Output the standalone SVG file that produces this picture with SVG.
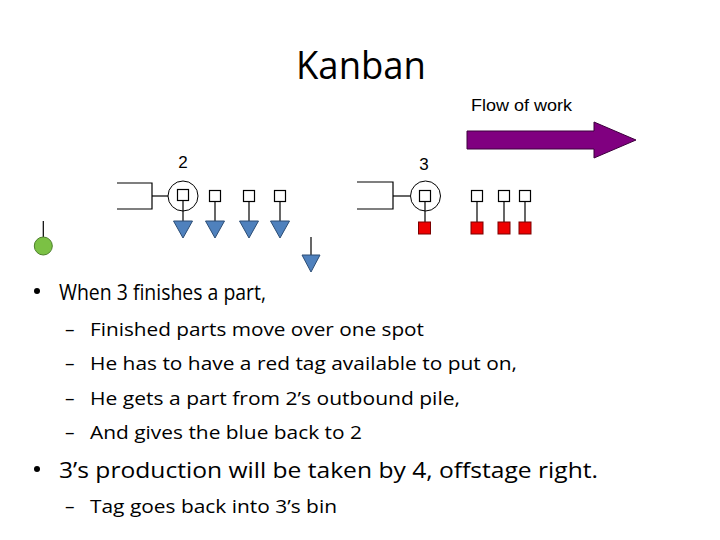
<svg xmlns="http://www.w3.org/2000/svg" width="720" height="540" viewBox="0 0 720 540">
<style>
.ln{stroke:#000;stroke-width:1.2;fill:none}
.sq{fill:#fff;stroke:#000;stroke-width:1.2}
.ring{fill:none;stroke:#000;stroke-width:1}
.tri{fill:#4F81BD;stroke:#2C4D75;stroke-width:1}
.red{fill:#EE0000;stroke:#7a0000;stroke-width:1}
.lab{font-family:"Liberation Sans",Arial,sans-serif;font-size:17px;fill:#000}
.title{font-family:"Open Sans","Liberation Sans",sans-serif;font-size:38px;fill:#000}
.b1{font-family:"Open Sans","Liberation Sans",sans-serif;font-size:22px;fill:#000}
.b2{font-family:"Open Sans","Liberation Sans",sans-serif;font-size:19px;fill:#000}
</style>
<rect width="720" height="540" fill="#fff"/>
<g id="title"><text class="title" x="296" y="79" textLength="130" lengthAdjust="spacingAndGlyphs">Kanban</text></g>
<g id="flow">
<text class="lab" x="471" y="111" textLength="101" lengthAdjust="spacingAndGlyphs">Flow of work</text>
<polygon points="467,131 594,131 594,122 636,140 594,158 594,149 467,149" fill="#800080" stroke="#3d003d" stroke-width="1"/>
</g>
<g id="connectors">
<polyline class="ln" points="117,183 152,183 152,209 117,209"/>
<line class="ln" x1="152" y1="196" x2="168" y2="196"/>
<line class="ln" x1="183" y1="201" x2="183" y2="221"/>
<line class="ln" x1="215" y1="202" x2="215" y2="221"/>
<line class="ln" x1="249" y1="202" x2="249" y2="221"/>
<line class="ln" x1="280" y1="202" x2="280" y2="221"/>
<line class="ln" x1="311" y1="237" x2="311" y2="255"/>
<line class="ln" x1="43.3" y1="221" x2="43.3" y2="237"/>
<polyline class="ln" points="357,182 393,182 393,209 357,209"/>
<line class="ln" x1="393" y1="196" x2="410" y2="196"/>
<line class="ln" x1="425" y1="202" x2="425" y2="222"/>
<line class="ln" x1="477" y1="202" x2="477" y2="222"/>
<line class="ln" x1="504" y1="202" x2="504" y2="222"/>
<line class="ln" x1="525" y1="202" x2="525" y2="222"/>
</g>
<g id="station2">
<text class="lab" x="183" y="168" text-anchor="middle">2</text>
<circle class="ring" cx="183" cy="196" r="15"/>
<rect class="sq" x="177.5" y="189.5" width="11" height="11"/>
</g>
<g id="station2-tags">
<rect class="sq" x="209.5" y="190.5" width="11" height="11"/>
<rect class="sq" x="243.5" y="190.5" width="11" height="11"/>
<rect class="sq" x="274.5" y="190.5" width="11" height="11"/>
<polygon class="tri" points="173.5,221 192.5,221 183,238"/>
<polygon class="tri" points="205.5,221 224.5,221 215,238"/>
<polygon class="tri" points="239.5,221 258.5,221 249,238"/>
<polygon class="tri" points="270.5,221 289.5,221 280,238"/>
</g>
<g id="returning-tag"><polygon class="tri" points="302,255 320,255 311,272"/></g>
<g id="green-part"><circle cx="43.3" cy="246" r="9" fill="#7BC144" stroke="#4C7F2A" stroke-width="1"/></g>
<g id="station3">
<text class="lab" x="424" y="170" text-anchor="middle">3</text>
<circle class="ring" cx="425.5" cy="196" r="15"/>
<rect class="sq" x="419.5" y="190.5" width="11" height="11"/>
<rect class="red" x="418.5" y="222" width="12" height="12"/>
</g>
<g id="station3-tags">
<rect class="sq" x="471.5" y="190.5" width="11" height="11"/>
<rect class="sq" x="498.5" y="190.5" width="11" height="11"/>
<rect class="sq" x="519.5" y="190.5" width="11" height="11"/>
<rect class="red" x="471" y="222" width="12" height="12"/>
<rect class="red" x="498" y="222" width="12" height="12"/>
<rect class="red" x="519" y="222" width="12" height="12"/>
</g>
<g id="text">
<circle cx="37" cy="291" r="3"/>
<text class="b1" x="59" y="300" textLength="207" lengthAdjust="spacingAndGlyphs">When 3 finishes a part,</text>
<text class="b2" x="65" y="336">–</text>
<text class="b2" x="90" y="336" textLength="334" lengthAdjust="spacingAndGlyphs">Finished parts move over one spot</text>
<text class="b2" x="65" y="370">–</text>
<text class="b2" x="90" y="370" textLength="427" lengthAdjust="spacingAndGlyphs">He has to have a red tag available to put on,</text>
<text class="b2" x="65" y="405">–</text>
<text class="b2" x="90" y="405" textLength="370" lengthAdjust="spacingAndGlyphs">He gets a part from 2’s outbound pile,</text>
<text class="b2" x="65" y="439">–</text>
<text class="b2" x="90" y="439" textLength="272" lengthAdjust="spacingAndGlyphs">And gives the blue back to 2</text>
<circle cx="37" cy="469" r="3"/>
<text class="b1" x="59" y="478" textLength="539" lengthAdjust="spacingAndGlyphs">3’s production will be taken by 4, offstage right.</text>
<text class="b2" x="65" y="513">–</text>
<text class="b2" x="90" y="513" textLength="247" lengthAdjust="spacingAndGlyphs">Tag goes back into 3’s bin</text>
</g>
</svg>
